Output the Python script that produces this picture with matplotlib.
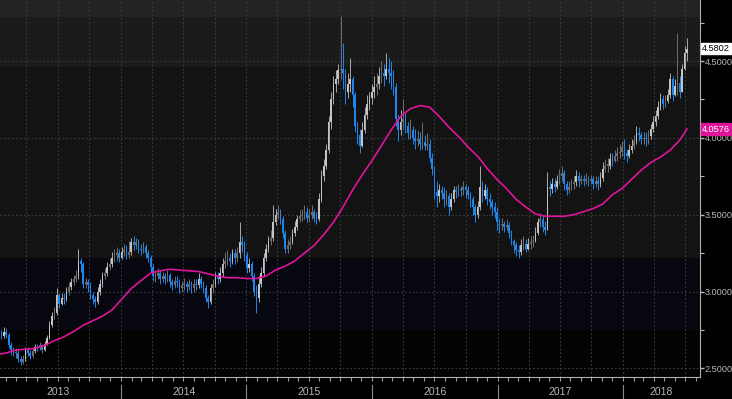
import numpy as np
import pandas as pd
import matplotlib
matplotlib.use("Agg")
import matplotlib.pyplot as plt
import matplotlib.dates as mdates
from matplotlib.ticker import MultipleLocator, FuncFormatter, NullLocator

# weekly candles, first week ending 2013-01-04
start_week = "2013-01-04"

closes = [
    2.72, 2.73, 2.71, 2.74, 2.72, 2.65, 2.62, 2.60, 2.60, 2.56,
    2.54, 2.56, 2.62, 2.60, 2.58, 2.61, 2.64, 2.63, 2.65, 2.62,
    2.66, 2.70, 2.78, 2.84, 2.86, 2.98, 2.92, 2.96, 2.95, 3.00,
    3.03, 3.06, 3.08, 3.10, 3.20, 3.18, 3.05, 3.06, 3.04, 2.98,
    2.95, 2.93, 3.00, 3.05, 3.10, 3.12, 3.16, 3.18, 3.22, 3.24,
    3.25, 3.22, 3.26, 3.27, 3.24, 3.26, 3.32, 3.30, 3.32, 3.28,
    3.27, 3.29, 3.25, 3.22, 3.16, 3.10, 3.10, 3.12, 3.08, 3.10,
    3.08, 3.11, 3.06, 3.04, 3.07, 3.06, 3.02, 3.04, 3.05, 3.03,
    3.05, 3.02, 3.05, 3.04, 3.08, 3.05, 3.02, 2.96, 2.93, 3.02,
    3.05, 3.10, 3.08, 3.12, 3.18, 3.20, 3.22, 3.20, 3.25, 3.22,
    3.25, 3.32, 3.30, 3.24, 3.15, 3.18, 3.10, 3.00, 2.96, 3.05,
    3.12, 3.22, 3.28, 3.33, 3.35, 3.45, 3.50, 3.52, 3.47, 3.38,
    3.28, 3.30, 3.32, 3.38, 3.42, 3.47, 3.49, 3.50, 3.52, 3.48,
    3.50, 3.52, 3.48, 3.47, 3.60, 3.75, 3.82, 3.92, 4.10, 4.25,
    4.35, 4.38, 4.44, 4.45, 4.42, 4.30, 4.35, 4.38, 4.28, 4.08,
    4.02, 3.95, 4.05, 4.15, 4.22, 4.26, 4.30, 4.33, 4.35, 4.40,
    4.42, 4.40, 4.45, 4.42, 4.40, 4.33, 4.12, 4.05, 4.10, 4.12,
    4.08, 4.03, 4.05, 4.00, 3.98, 3.99, 3.96, 3.97, 3.95, 3.96,
    3.87, 3.80, 3.65, 3.62, 3.66, 3.64, 3.60, 3.62, 3.55, 3.60,
    3.66, 3.65, 3.67, 3.66, 3.68, 3.66, 3.63, 3.60, 3.55, 3.50,
    3.55, 3.68, 3.62, 3.66, 3.60, 3.58, 3.55, 3.52, 3.45, 3.43,
    3.44, 3.42, 3.43, 3.38, 3.33, 3.30, 3.27, 3.26, 3.30, 3.31,
    3.28, 3.31, 3.32, 3.33, 3.38, 3.45, 3.47, 3.42, 3.40, 3.68,
    3.67, 3.70, 3.68, 3.72, 3.75, 3.77, 3.70, 3.66, 3.68, 3.70,
    3.71, 3.75, 3.72, 3.73, 3.72, 3.73, 3.72, 3.73, 3.70, 3.72,
    3.70, 3.74, 3.80, 3.82, 3.82, 3.86, 3.85, 3.88, 3.90, 3.91,
    3.94, 3.90, 3.88, 3.92, 3.95, 3.98, 4.03, 4.02, 3.99, 4.00,
    3.99, 4.01, 4.06, 4.10, 4.14, 4.20, 4.25, 4.22, 4.24, 4.28,
    4.38, 4.28, 4.34, 4.36, 4.30, 4.45, 4.55, 4.5802,
]

highs = [
    2.75, 2.76, 2.75, 2.77, 2.76, 2.73, 2.67, 2.64, 2.63, 2.62,
    2.58, 2.59, 2.64, 2.64, 2.62, 2.63, 2.66, 2.66, 2.67, 2.66,
    2.68, 2.72, 2.81, 2.87, 2.90, 3.02, 2.99, 2.99, 2.99, 3.03,
    3.06, 3.09, 3.11, 3.14, 3.28, 3.22, 3.19, 3.09, 3.08, 3.06,
    3.00, 2.97, 3.03, 3.08, 3.13, 3.15, 3.19, 3.22, 3.26, 3.28,
    3.29, 3.28, 3.29, 3.31, 3.30, 3.33, 3.35, 3.36, 3.35, 3.34,
    3.31, 3.32, 3.31, 3.27, 3.24, 3.18, 3.14, 3.15, 3.14, 3.13,
    3.12, 3.14, 3.12, 3.08, 3.10, 3.10, 3.08, 3.07, 3.09, 3.07,
    3.08, 3.07, 3.08, 3.08, 3.12, 3.10, 3.07, 3.04, 2.98, 3.05,
    3.08, 3.13, 3.13, 3.16, 3.22, 3.26, 3.27, 3.25, 3.28, 3.28,
    3.29, 3.45, 3.36, 3.33, 3.26, 3.22, 3.20, 3.12, 3.04, 3.10,
    3.16, 3.25, 3.31, 3.36, 3.40, 3.56, 3.54, 3.56, 3.54, 3.49,
    3.40, 3.34, 3.36, 3.41, 3.46, 3.50, 3.53, 3.54, 3.56, 3.55,
    3.54, 3.56, 3.54, 3.52, 3.64, 3.79, 3.86, 3.96, 4.14, 4.30,
    4.40, 4.44, 4.48, 4.79, 4.62, 4.45, 4.42, 4.52, 4.40, 4.30,
    4.10, 4.06, 4.10, 4.20, 4.28, 4.30, 4.35, 4.40, 4.42, 4.46,
    4.50, 4.48, 4.55, 4.52, 4.50, 4.44, 4.36, 4.15, 4.18, 4.25,
    4.16, 4.10, 4.12, 4.08, 4.06, 4.05, 4.04, 4.10, 4.02, 4.03,
    3.99, 3.90, 3.82, 3.72, 3.70, 3.69, 3.68, 3.66, 3.64, 3.64,
    3.69, 3.69, 3.70, 3.69, 3.72, 3.70, 3.69, 3.65, 3.62, 3.57,
    3.59, 3.82, 3.72, 3.70, 3.68, 3.64, 3.60, 3.58, 3.55, 3.48,
    3.48, 3.46, 3.47, 3.45, 3.40, 3.34, 3.32, 3.30, 3.34, 3.36,
    3.34, 3.35, 3.36, 3.37, 3.42, 3.48, 3.51, 3.50, 3.46, 3.78,
    3.72, 3.74, 3.74, 3.76, 3.80, 3.82, 3.79, 3.72, 3.72, 3.73,
    3.75, 3.79, 3.78, 3.76, 3.76, 3.77, 3.75, 3.76, 3.75, 3.75,
    3.75, 3.78, 3.84, 3.86, 3.87, 3.90, 3.90, 3.92, 3.94, 3.96,
    3.98, 3.99, 3.93, 3.96, 3.99, 4.02, 4.08, 4.07, 4.04, 4.04,
    4.04, 4.05, 4.09, 4.14, 4.18, 4.24, 4.29, 4.28, 4.28, 4.32,
    4.42, 4.40, 4.38, 4.68, 4.40, 4.48, 4.60, 4.65,
]

lows = [
    2.68, 2.70, 2.69, 2.70, 2.70, 2.63, 2.59, 2.58, 2.57, 2.54,
    2.52, 2.53, 2.55, 2.58, 2.56, 2.57, 2.60, 2.61, 2.62, 2.60,
    2.61, 2.65, 2.69, 2.77, 2.82, 2.85, 2.89, 2.91, 2.92, 2.94,
    2.98, 3.01, 3.04, 3.06, 3.08, 3.13, 3.02, 3.02, 3.00, 2.95,
    2.92, 2.90, 2.92, 2.98, 3.03, 3.08, 3.10, 3.14, 3.16, 3.19,
    3.20, 3.19, 3.21, 3.23, 3.21, 3.22, 3.24, 3.27, 3.28, 3.25,
    3.24, 3.25, 3.22, 3.19, 3.13, 3.07, 3.06, 3.08, 3.05, 3.06,
    3.05, 3.06, 3.03, 3.01, 3.02, 3.03, 2.99, 3.00, 3.01, 3.00,
    3.01, 2.99, 3.00, 3.01, 3.02, 3.02, 2.99, 2.93, 2.89, 2.92,
    2.99, 3.03, 3.05, 3.06, 3.10, 3.15, 3.17, 3.16, 3.18, 3.18,
    3.19, 3.22, 3.26, 3.20, 3.12, 3.13, 3.07, 2.97, 2.86, 2.93,
    3.03, 3.10, 3.20, 3.26, 3.30, 3.33, 3.43, 3.47, 3.44, 3.35,
    3.25, 3.25, 3.28, 3.31, 3.36, 3.40, 3.45, 3.46, 3.47, 3.45,
    3.45, 3.47, 3.45, 3.44, 3.46, 3.58, 3.72, 3.80, 3.90, 4.06,
    4.22, 4.30, 4.35, 4.38, 4.32, 4.22, 4.26, 4.30, 4.20, 4.04,
    3.96, 3.90, 3.94, 4.03, 4.12, 4.18, 4.22, 4.26, 4.28, 4.32,
    4.36, 4.34, 4.38, 4.36, 4.32, 4.28, 4.08, 3.98, 4.02, 4.06,
    4.03, 3.99, 3.99, 3.96, 3.93, 3.95, 3.92, 3.93, 3.92, 3.92,
    3.84, 3.76, 3.60, 3.55, 3.58, 3.60, 3.55, 3.56, 3.50, 3.53,
    3.58, 3.61, 3.62, 3.62, 3.63, 3.61, 3.60, 3.55, 3.50, 3.45,
    3.48, 3.53, 3.58, 3.60, 3.56, 3.54, 3.50, 3.48, 3.40, 3.38,
    3.40, 3.39, 3.40, 3.35, 3.30, 3.25, 3.23, 3.22, 3.24, 3.27,
    3.26, 3.27, 3.28, 3.29, 3.32, 3.37, 3.42, 3.39, 3.37, 3.40,
    3.62, 3.64, 3.65, 3.67, 3.70, 3.72, 3.66, 3.63, 3.64, 3.66,
    3.67, 3.69, 3.68, 3.70, 3.69, 3.70, 3.69, 3.70, 3.67, 3.68,
    3.66, 3.68, 3.72, 3.78, 3.78, 3.80, 3.82, 3.84, 3.85, 3.87,
    3.88, 3.86, 3.84, 3.87, 3.90, 3.93, 3.96, 3.98, 3.96, 3.96,
    3.95, 3.96, 3.99, 4.04, 4.08, 4.12, 4.18, 4.19, 4.20, 4.23,
    4.26, 4.24, 4.27, 4.28, 4.26, 4.30, 4.44, 4.50,
]

first_open = 2.70

# moving average, read every 4th week (+ last week)
ma_weeks = list(range(0, 288, 4)) + [287]
ma_values = [
    2.59, 2.60, 2.62, 2.625, 2.63, 2.65, 2.68, 2.705, 2.74, 2.78,
    2.81, 2.84, 2.88, 2.95, 3.02, 3.07, 3.12, 3.135, 3.145, 3.14,
    3.135, 3.13, 3.115, 3.10, 3.09, 3.09, 3.085, 3.085, 3.10, 3.14,
    3.165, 3.20, 3.25, 3.30, 3.37, 3.45, 3.55, 3.66, 3.76, 3.85,
    3.95, 4.05, 4.14, 4.19, 4.21, 4.20, 4.14, 4.07, 4.01, 3.94,
    3.88, 3.80, 3.73, 3.67, 3.60, 3.55, 3.505, 3.49, 3.49, 3.49,
    3.50, 3.52, 3.54, 3.57, 3.63, 3.67, 3.73, 3.79, 3.84, 3.875,
    3.92, 3.985, 4.0576,
]

year_labels = ["2013", "2014", "2015", "2016", "2017", "2018"]
y_ticks = [2.5, 3.0, 3.5, 4.0, 4.5]

# background shading bands (value ranges)
bands = [
    (2.30, 2.75, "#030303"),
    (2.75, 3.217, "#06070f"),
    (3.217, 4.46, "#131313"),
    (4.46, 4.786, "#1b1b1b"),
    (4.786, 5.00, "#232323"),
]

FONT = ["Liberation Sans Narrow", "Liberation Sans", "DejaVu Sans"]
plt.rcParams["font.family"] = FONT

dates = pd.date_range(start_week, periods=len(closes), freq="7D")
opens = [first_open] + closes[:-1]

fig = plt.figure(figsize=(7.32, 3.99), dpi=100, facecolor="black")
ax = fig.add_axes([0.0, 22 / 399, 700 / 732, 377 / 399])
ax.set_facecolor("black")

for lo, hi, col in bands:
    ax.axhspan(lo, hi, color=col, zorder=0, lw=0)

x = mdates.date2num(dates)
body_w = 4.6
o = np.array(opens)
c = np.array(closes)
up = c >= o
small = np.abs(c - o) < 0.03
colors = np.where(~up, "#1f86ee", np.where(small, "#6a6a6a", "#c4c4c4"))
wick_colors = np.where(~up, "#1f86ee", np.where(small, "#707070", "#a9a9a9"))

ax.vlines(x, lows, highs, colors=wick_colors, lw=0.7, zorder=3)
bottoms = np.minimum(o, c)
heights = np.maximum(np.abs(c - o), 0.008)
ax.bar(x, heights, bottom=bottoms, width=body_w, color=colors, lw=0, zorder=4)

ma_dates = dates[ma_weeks]
ax.plot(ma_dates, ma_values, color="#e0149a", lw=1.2, zorder=5)

# limits
xmin = mdates.datestr2num("2013-01-14")
xmax = mdates.datestr2num("2018-08-13")
ax.set_xlim(xmin, xmax)
ax.set_ylim(2.444, 4.897)

# grid
for q in pd.date_range("2013-04-01", "2018-07-01", freq="QS"):
    ax.axvline(q, color="#3c3c3c", lw=0.8, ls=(0, (1.5, 2)), zorder=1)
for yv in y_ticks:
    ax.axhline(yv, color="#3c3c3c", lw=0.8, ls=(0, (1.5, 2)), zorder=1)

# spines
for s in ["top", "left"]:
    ax.spines[s].set_visible(False)
ax.spines["right"].set_color("#b0b0b0")
ax.spines["bottom"].set_color("#b0b0b0")

# y axis on the right
ax.yaxis.tick_right()
ax.yaxis.set_major_locator(MultipleLocator(0.5))
ax.yaxis.set_minor_locator(MultipleLocator(0.25))
ax.yaxis.set_major_formatter(FuncFormatter(lambda v, p: f"{v:.4f}"))
ax.tick_params(axis="y", which="major", colors="#b8b8b8", labelsize=6.6,
               length=3, width=1, pad=0.5)
ax.tick_params(axis="y", which="minor", colors="#b8b8b8", length=3, width=0.8)

# x axis: monthly minor ticks, year labels between separators
ax.xaxis.set_major_locator(NullLocator())
ax.xaxis.set_minor_locator(mdates.MonthLocator())
ax.tick_params(axis="x", which="minor", colors="#9a9a9a", length=3, width=0.8)
xt = ax.get_xaxis_transform()
for k, lab in enumerate(year_labels):
    y0 = mdates.datestr2num(f"{lab}-01-01")
    y1 = min(mdates.datestr2num(f"{int(lab) + 1}-01-01"), xmax)
    if k > 0:
        ax.plot([y0, y0], [-0.022, -0.06], color="#8a8a8a", lw=0.8,
                transform=xt, clip_on=False)
    ax.text((y0 + y1) / 2, -0.040, lab, transform=xt, ha="center",
            va="center", color="#b8b8b8", fontsize=7.5)

# last-value tags
yt = ax.get_yaxis_transform()
ax.text(1.003, closes[-1], f"{closes[-1]:.4f}", transform=yt, ha="left",
        va="center", fontsize=6.6, color="black", zorder=10,
        bbox=dict(boxstyle="square,pad=0.12", fc="white", ec="white"))
ax.text(1.003, ma_values[-1], f"{ma_values[-1]:.4f}", transform=yt, ha="left",
        va="center", fontsize=6.6, color="white", zorder=10,
        bbox=dict(boxstyle="square,pad=0.12", fc="#e0149a", ec="#e0149a"))

fig.savefig("out.png", dpi=100, facecolor="black")
